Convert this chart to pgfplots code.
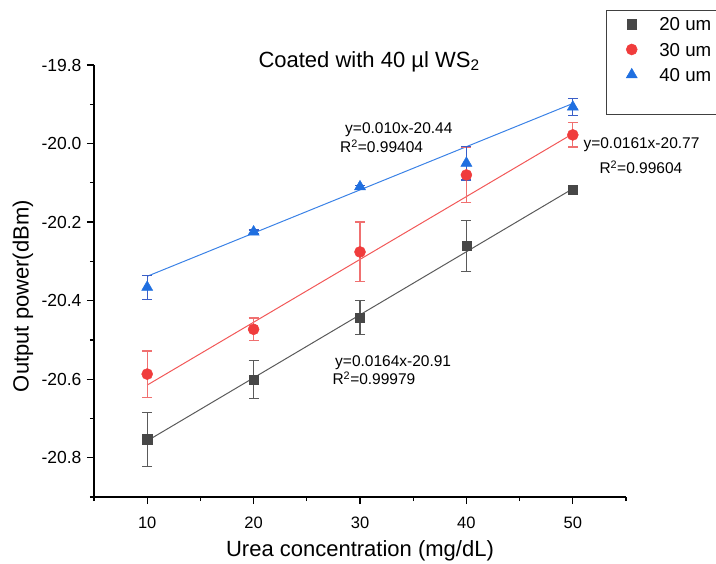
\documentclass[border=0pt]{standalone}
\usepackage{fontspec}
\setmainfont{Liberation Sans}
\usepackage{pgfplots}
\pgfplotsset{compat=1.18}

\definecolor{cA}{HTML}{474747}
\definecolor{cAl}{HTML}{5A5A5A}
\definecolor{cR}{HTML}{F03C3C}
\definecolor{cRl}{HTML}{F25858}
\definecolor{cRe}{HTML}{F07070}
\definecolor{cB}{HTML}{1F6FE0}
\definecolor{cBl}{HTML}{3B82E6}
\definecolor{cBe}{HTML}{3A5FC8}

% x  y  err
\pgfplotstableread{
x y e
10 -20.753 0.069
20 -20.601 0.048
30 -20.443 0.043
40 -20.260 0.065
50 -20.118 0.003
}\twenty
\pgfplotstableread{
x y e
10 -20.587 0.059
20 -20.473 0.029
30 -20.276 0.076
40 -20.080 0.070
50 -19.978 0.031
}\thirty
\pgfplotstableread{
x y e
10 -20.366 0.031
20 -20.225 0.005
30 -20.110 0.004
40 -20.050 0.043
50 -19.907 0.022
}\forty

\newcommand{\annfont}{\fontsize{15.5bp}{18bp}\selectfont}

\begin{document}
\begin{tikzpicture}
\begin{axis}[
  width=532bp, height=432bp, scale only axis,
  xmin=5, xmax=55, ymin=-20.9, ymax=-19.8,
  axis x line*=bottom, axis y line*=left,
  axis line style={line width=1.2bp, black},
  xtick={10,20,30,40,50},
  minor xtick={5,15,25,35,45,55},
  ytick={-20.8,-20.6,-20.4,-20.2,-20.0,-19.8},
  minor ytick={-20.9,-20.7,-20.5,-20.3,-20.1,-19.9},
  tick align=outside,
  major tick length=7bp, minor tick length=4bp,
  tick style={line width=1.2bp, black},
  xticklabel style={font=\fontsize{16.5bp}{19bp}\selectfont, yshift=-9bp,
    /pgf/number format/assume math mode=true},
  yticklabel style={font=\fontsize{17.5bp}{20bp}\selectfont, xshift=-2bp,
    /pgf/number format/.cd, fixed, fixed zerofill, precision=1, assume math mode=true},
  xlabel={Urea concentration (mg/dL)},
  ylabel={Output power(dBm)},
  label style={font=\fontsize{22bp}{26bp}\selectfont},
  xlabel style={at={(axis description cs:0.5,0)}, anchor=base, yshift=-59bp},
  ylabel style={at={(axis description cs:-0.1335,0.465)}, anchor=center},
  clip=false,
  legend image code/.code={\draw[#1] plot coordinates {(0bp,0bp)};},
  legend style={at={(axis cs:55.0,-19.6785)}, anchor=north west, draw=none, fill=none,
    inner sep=0pt, font=\fontsize{18.7bp}{22bp}\selectfont,
    row sep=11.9bp, column sep=22bp,
    nodes={inner sep=0pt, text height=13.4bp, text depth=0pt, anchor=west}},
]
% fit lines
\addplot[cAl, line width=1bp, forget plot] coordinates {(10,-20.757) (50,-20.115)};
\addplot[cRl, line width=1bp, forget plot] coordinates {(10,-20.615) (50,-19.975)};
\addplot[cBl, line width=1bp, forget plot] coordinates {(10,-20.338) (50,-19.898)};

\addplot[only marks, mark=square*, mark size=4.6bp, color=cA,
  mark options={fill=cA, draw=cA, line width=0.5bp},
  error bars/.cd, y dir=both, y explicit,
  error bar style={color=cAl, line width=1.2bp},
  error mark options={rotate=90, mark size=5bp, color=cAl, line width=1.2bp}]
  table[x=x, y=y, y error=e] {\twenty};
\addlegendentry{20 um}

\addplot[only marks, mark=*, mark size=5.5bp, color=cR,
  mark options={fill=cR, draw=cR, line width=0.5bp},
  error bars/.cd, y dir=both, y explicit,
  error bar style={color=cRe, line width=1.2bp},
  error mark options={rotate=90, mark size=5bp, color=cRe, line width=1.2bp}]
  table[x=x, y=y, y error=e] {\thirty};
\addlegendentry{30 um}

\addplot[only marks, mark=triangle*, mark size=6.4bp, color=cB,
  mark options={fill=cB, draw=cB, line width=0.5bp},
  error bars/.cd, y dir=both, y explicit,
  error bar style={color=cBe, line width=1.2bp},
  error mark options={rotate=90, mark size=5bp, color=cBe, line width=1.2bp}]
  table[x=x, y=y, y error=e] {\forty};
\addlegendentry{40 um}

% title
\node[anchor=base, font=\fontsize{22bp}{26bp}\selectfont]
  at (axis cs:30.85,-19.806) {Coated with 40 µl WS\textsubscript{2}};

% fit equations
\node[anchor=base west, font=\annfont, inner sep=0pt] at (axis cs:28.59,-19.974) {y=0.010x-20.44};
\node[anchor=base west, font=\annfont, inner sep=0pt] at (axis cs:28.12,-20.0234) {R\textsuperscript{2}=0.99404};
\node[anchor=base west, font=\annfont, inner sep=0pt] at (axis cs:50.99,-20.012) {y=0.0161x-20.77};
\node[anchor=base west, font=\annfont, inner sep=0pt] at (axis cs:52.49,-20.076) {R\textsuperscript{2}=0.99604};
\node[anchor=base west, font=\annfont, inner sep=0pt] at (axis cs:27.65,-20.567) {y=0.0164x-20.91};
\node[anchor=base west, font=\annfont, inner sep=0pt] at (axis cs:27.40,-20.613) {R\textsuperscript{2}=0.99979};

% legend frame
\draw[black!75, line width=1bp] (axis cs:71.4,-19.660) -- (axis cs:53.12,-19.660)
  -- (axis cs:53.12,-19.925) -- (axis cs:71.4,-19.925);
\end{axis}
\pgfresetboundingbox
\path ([xshift=-94bp,yshift=-66bp]current axis.south west) rectangle ([xshift=90bp,yshift=65bp]current axis.north east);
\end{tikzpicture}
\end{document}
